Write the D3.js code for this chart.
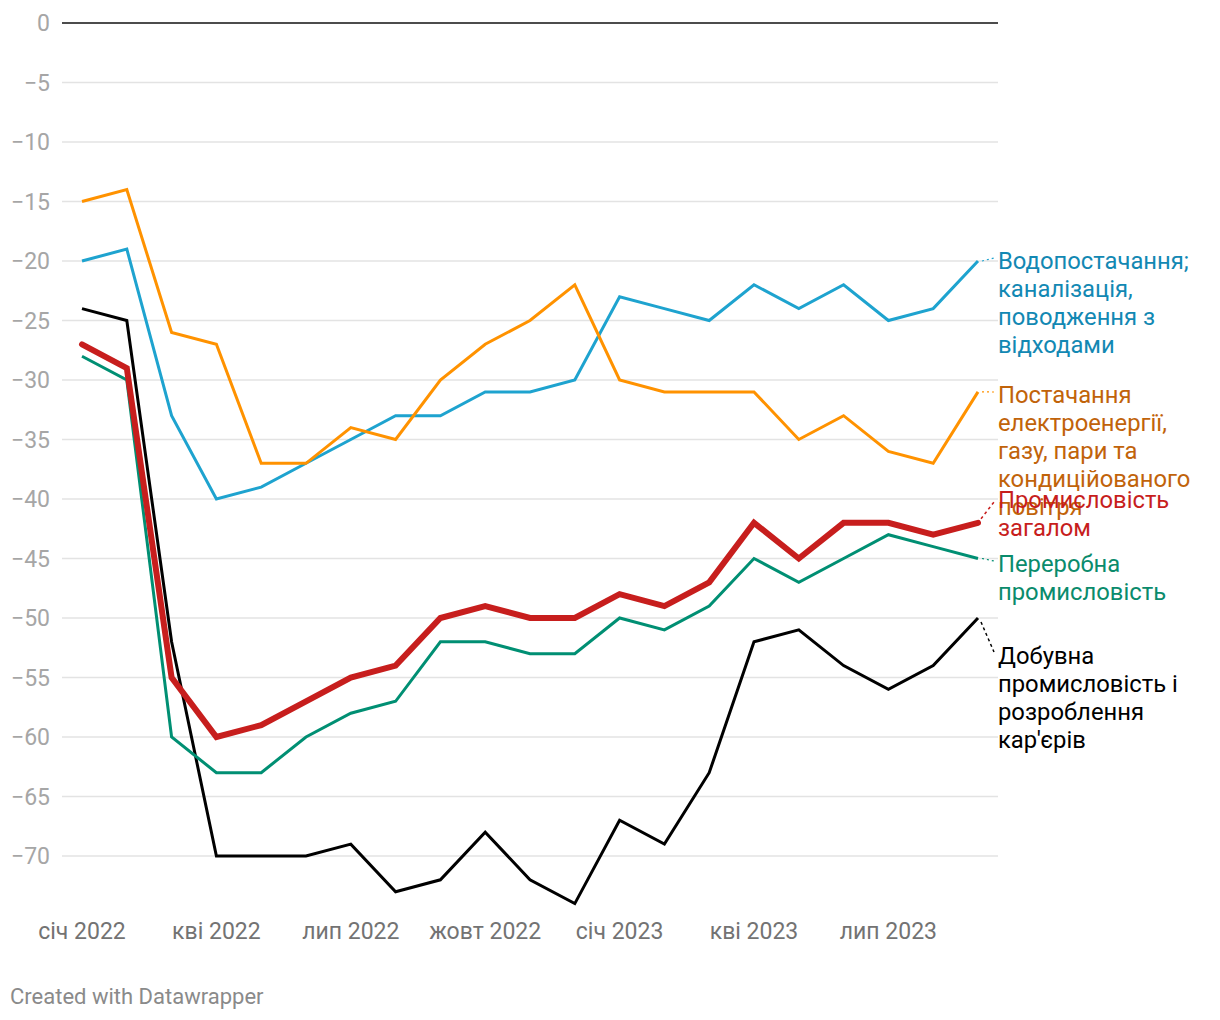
<!DOCTYPE html>
<html><head><meta charset="utf-8">
<script src="https://cdn.jsdelivr.net/npm/d3@7"></script>
<style>
body{margin:0;background:#fff;font-family:Roboto,"Noto Sans",sans-serif;}
</style></head><body>
<svg id="c" width="1220" height="1020"></svg>
<script>
const months = d3.range(21);
const tickIdx = [0,3,6,9,12,15,18];
const tickLabels = ["січ 2022","кві 2022","лип 2022","жовт 2022","січ 2023","кві 2023","лип 2023"];
const yTicks = [0,-5,-10,-15,-20,-25,-30,-35,-40,-45,-50,-55,-60,-65,-70];

const water   = [-20,-19,-33,-40,-39,-37,-35,-33,-33,-31,-31,-30,-23,-24,-25,-22,-24,-22,-25,-24,-20];
const energy  = [-15,-14,-26,-27,-37,-37,-34,-35,-30,-27,-25,-22,-30,-31,-31,-31,-35,-33,-36,-37,-31];
const total   = [-27,-29,-55,-60,-59,-57,-55,-54,-50,-49,-50,-50,-48,-49,-47,-42,-45,-42,-42,-43,-42];
const manuf   = [-28,-30,-60,-63,-63,-60,-58,-57,-52,-52,-53,-53,-50,-51,-49,-45,-47,-45,-43,-44,-45];
const mining  = [-24,-25,-52,-70,-70,-70,-69,-73,-72,-68,-72,-74,-67,-69,-63,-52,-51,-54,-56,-54,-50];

const labelLines = [
  ["Водопостачання;","каналізація,","поводження з","відходами"],
  ["Постачання","електроенергії,","газу, пари та","кондиційованого","повітря"],
  ["Промисловість","загалом"],
  ["Переробна","промисловість"],
  ["Добувна","промисловість і","розроблення","кар'єрів"]
];
const labelY = [261, 395, 500, 564, 656];

const series = [
  {vals: water,  stroke:"#1ea3cf", w:3},
  {vals: energy, stroke:"#ff9200", w:3},
  {vals: mining, stroke:"#000000", w:3},
  {vals: manuf,  stroke:"#008f73", w:3},
  {vals: total,  stroke:"#c71e1d", w:6}
];

const svg = d3.select("#c");
const x = d3.scaleLinear().domain([0,20]).range([82,978]);
const y = d3.scaleLinear().domain([0,-70]).range([23,856]);

// grid
svg.append("g").selectAll("line").data(yTicks.filter(d=>d!==0)).join("line")
  .attr("x1",62).attr("x2",998).attr("y1",d=>y(d)).attr("y2",d=>y(d))
  .attr("stroke","#e3e3e3").attr("stroke-width",1.5);
svg.append("line").attr("x1",62).attr("x2",998).attr("y1",y(0)).attr("y2",y(0))
  .attr("stroke","#111").attr("stroke-width",1.5);

// y labels
svg.append("g").selectAll("text").data(yTicks).join("text")
  .attr("x",50).attr("y",d=>y(d)).attr("dy","0.35em").attr("text-anchor","end")
  .attr("font-size",23).attr("fill","#a6a6a6")
  .text(d=> d===0 ? "0" : "\u2212"+Math.abs(d));

// x labels
svg.append("g").selectAll("text").data(tickIdx).join("text")
  .attr("x",d=>x(d)).attr("y",939).attr("text-anchor","middle")
  .attr("font-size",23).attr("fill","#737373")
  .text((d,i)=>tickLabels[i]);

// lines
const line = d3.line().x((d,i)=>x(i)).y(d=>y(d));
series.forEach(s=>{
  svg.append("path").datum(s.vals).attr("d",line).attr("fill","none")
    .attr("stroke",s.stroke).attr("stroke-width",s.w)
    .attr("stroke-linejoin","miter").attr("stroke-linecap", s.w>3?"round":"butt");
});

// labels
const labelSeries = [water, energy, total, manuf, mining];
const labelColors = ["#1288b3","#c1630a","#c71e1d","#0a8b6c","#000000"];
const lineColors = ["#1ea3cf","#ff9200","#c71e1d","#008f73","#000000"];
labelSeries.forEach((vals,k)=>{
  const ex = x(20), ey = y(vals[20]);
  const ly = labelY[k];
  if (Math.abs(ly-ey)>6) {
    svg.append("line").attr("x1",ex+3).attr("y1",ey + (ly<ey?-4:4))
      .attr("x2",994).attr("y2",ly + (ly<ey?2:-4))
      .attr("stroke",lineColors[k]).attr("stroke-width",1.5).attr("stroke-dasharray","3,3");
  } else {
    svg.append("line").attr("x1",ex+4).attr("y1",ey).attr("x2",994).attr("y2",ly-3)
      .attr("stroke",lineColors[k]).attr("stroke-width",1.2).attr("stroke-dasharray","2,3");
  }
  const t = svg.append("text").attr("x",998).attr("y",ly).attr("font-size",23.8).attr("fill",labelColors[k]);
  labelLines[k].forEach((l,j)=>{
    t.append("tspan").attr("x",998).attr("y",ly + j*28).attr("dy","0.35em").text(l);
  });
});

svg.append("text").attr("x",10).attr("y",1004).attr("font-size",22).attr("fill","#8a8a8a")
  .text("Created with Datawrapper");
</script>
</body></html>
